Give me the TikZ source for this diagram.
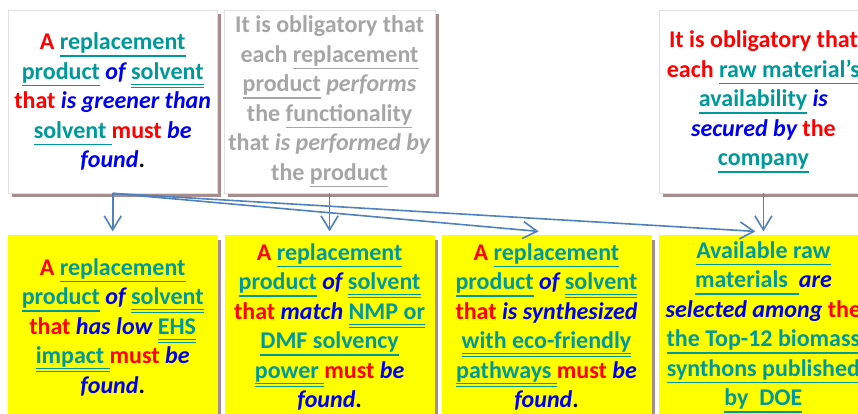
\documentclass[tikz,border=0pt]{standalone}
\usepackage{fontspec}
\setmainfont{Carlito}
\usepackage{xcolor}
\usepackage{tikz}
\usetikzlibrary{arrows.meta, positioning, shadows}
\definecolor{redc}{RGB}{255,0,0}
\definecolor{bluec}{RGB}{0,0,240}
\definecolor{tealc}{RGB}{0,153,153}
\definecolor{grayc}{RGB}{166,166,166}
\definecolor{shadowc}{RGB}{166,140,140}
\definecolor{arrowc}{RGB}{79,129,189}
\definecolor{goalc}{RGB}{255,255,0}
% coloured words
\newcommand\ulx[2]{\leavevmode\setbox0\hbox{#2}\rlap{\color{#1}\rule[-7pt]{\wd0}{1.5pt}}\box0\relax}
\newcommand\ulxx[2]{\leavevmode\setbox0\hbox{#2}\rlap{\color{#1}\rule[-5.5pt]{\wd0}{1pt}}\rlap{\color{#1}\rule[-8.5pt]{\wd0}{1pt}}\box0\relax}
\newcommand\redw[1]{\leavevmode{\color{redc}#1}}
\newcommand\bluw[1]{\leavevmode{\color{bluec}\itshape #1}}
\newcommand\tealu[1]{\leavevmode{\color{tealc}\ulx{tealc}{#1}}}
\newcommand\tealuu[1]{\leavevmode{\color{tealc}\ulxx{tealc}{#1}}}
\newcommand\grayu[1]{\ulx{grayc}{#1}}
\tikzstyle{topbox} = [rectangle, minimum width=209pt, minimum height=183pt, inner sep=4pt, align=center, draw=black!12, fill=white, drop shadow={shadow xshift=4pt, shadow yshift=-4pt, fill=shadowc, opacity=1}, font=\fontsize{24}{29.5}\selectfont\bfseries]
\tikzstyle{goalbox} = [topbox, fill=goalc, draw=goalc]
\tikzstyle{arrow} = [line width=1.6pt, draw=arrowc, -{Straight Barb[length=14pt, width=17pt]}]

\begin{document}
\begin{tikzpicture}[x=1pt, y=1pt, node distance=42pt and 7.5pt]
    \useasboundingbox (0,0) rectangle (858,414);
    \node (top1) [topbox, anchor=north west] at (8,404) {\redw{A} \tealu{replacement}\\ \tealu{product} \bluw{of} \tealuu{solvent}\\ \redw{that} \bluw{is greener than}\\ \tealu{solvent\ }\redw{must} \bluw{be}\\ \bluw{found}.};
    \node (ehs) [goalbox, below=of top1] {\redw{A} \tealu{replacement}\\ \tealu{product} \bluw{of} \tealuu{solvent}\\ \redw{that} \bluw{has low} \tealuu{EHS}\\ \tealuu{impact\ }\redw{must} \bluw{be}\\ \bluw{found}.};
    \node (power) [goalbox, right=of ehs] {\redw{A} \tealu{replacement}\\ \tealu{product} \bluw{of} \tealuu{solvent}\\ \redw{that} \bluw{match} \tealuu{NMP or}\\ \tealu{DMF solvency}\\ \tealuu{power\ }\redw{must} \bluw{be}\\ \bluw{found}.};
    \node (synth) [goalbox, right=of power] {\redw{A} \tealu{replacement}\\ \tealu{product} \bluw{of} \tealuu{solvent}\\ \redw{that} \bluw{is synthesized}\\ \tealuu{with eco-friendly}\\ \tealuu{pathways\ }\redw{must} \bluw{be}\\ \bluw{found}.};
    \node (raw) [goalbox, right=of synth] {\tealu{Available raw}\\ \tealu{materials\ \ }\bluw{are}\\ \bluw{selected among} \redw{the}\\ \tealu{the Top-12 biomass}\\ \tealu{synthons published}\\ \tealu{by\ \ DOE}};
    \node (top2) [topbox, above=of power, text=grayc] {It is obligatory that\\ each \grayu{replacement}\\ \grayu{product} \textit{performs}\\ the \grayu{functionality}\\ that \textit{is performed by}\\ the \grayu{product}};
    \node (top3) [topbox, above=of raw] {\redw{It is obligatory that}\\ \redw{each} \tealu{raw material’s}\\ \tealu{availability} \bluw{is}\\ \bluw{secured by} \redw{the}\\ \tealu{company}};

    \draw [arrow] (top1.south) -- ([yshift=4pt]ehs.north);
    \draw [arrow] (top2.south) -- ([yshift=4pt]power.north);
    \draw [arrow] (top3.south) -- ([yshift=4pt]raw.north);
    \draw [arrow] (top1.south) -- ([xshift=-8pt, yshift=4pt]synth.north);
    \draw [arrow] (top1.south) -- ([xshift=-8pt, yshift=4pt]raw.north);
\end{tikzpicture}
\end{document}
